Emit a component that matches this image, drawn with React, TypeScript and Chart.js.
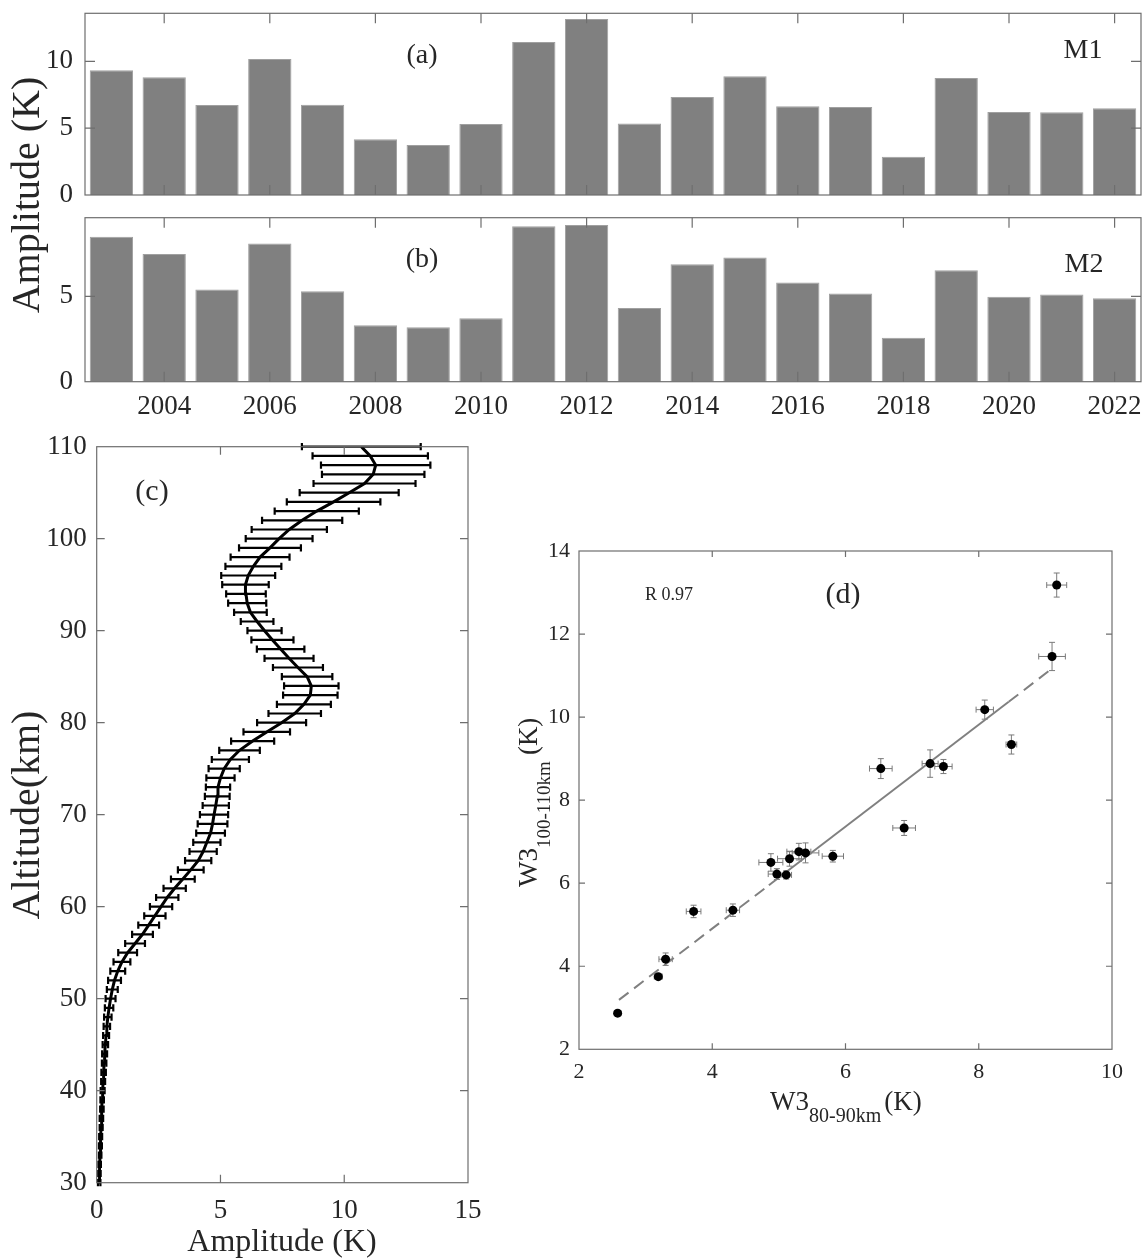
import React, { useEffect, useRef } from "react";
import { Chart, registerables } from "chart.js";

Chart.register(...registerables);

const PAGE_W = 1146;
const PAGE_H = 1259;
const SERIF = '"Liberation Serif", "Times New Roman", Times, serif';
const TEXT_COLOR = "#262626";
const AXIS_COLOR = "#6e6e6e";
const BAR_COLOR = "#808080";

// ---------- panels (a) and (b): yearly amplitudes ----------
const years = [2003, 2004, 2005, 2006, 2007, 2008, 2009, 2010, 2011, 2012, 2013, 2014, 2015, 2016, 2017, 2018, 2019, 2020, 2021, 2022];
const m1Amplitude = [9.34, 8.81, 6.73, 10.18, 6.76, 4.17, 3.75, 5.32, 11.46, 13.18, 5.35, 7.33, 8.88, 6.65, 6.59, 2.87, 8.76, 6.22, 6.2, 6.5];
const m2Amplitude = [8.49, 7.47, 5.4, 8.09, 5.3, 3.3, 3.19, 3.72, 9.1, 9.17, 4.31, 6.88, 7.27, 5.81, 5.16, 2.58, 6.53, 4.97, 5.11, 4.88];
const yearTickLabels = ["2004", "2006", "2008", "2010", "2012", "2014", "2016", "2018", "2020", "2022"];

// ---------- panel (c): vertical profile ----------
const altitudeKm = [
  30, 31, 32, 33, 34, 35, 36, 37, 38, 39,
  40, 41, 42, 43, 44, 45, 46, 47, 48, 49,
  50, 51, 52, 53, 54, 55, 56, 57, 58, 59,
  60, 61, 62, 63, 64, 65, 66, 67, 68, 69,
  70, 71, 72, 73, 74, 75, 76, 77, 78, 79,
  80, 81, 82, 83, 84, 85, 86, 87, 88, 89,
  90, 91, 92, 93, 94, 95, 96, 97, 98, 99,
  100, 101, 102, 103, 104, 105, 106, 107, 108, 109, 110,
];
const profileAmplitude = [
  0.1, 0.11, 0.12, 0.14, 0.15, 0.16, 0.18, 0.19, 0.21, 0.22,
  0.24, 0.26, 0.28, 0.3, 0.32, 0.35, 0.38, 0.41, 0.45, 0.5,
  0.56, 0.63, 0.72, 0.85, 1.02, 1.25, 1.55, 1.85, 2.1, 2.35,
  2.6, 2.85, 3.15, 3.48, 3.8, 4.1, 4.3, 4.45, 4.6, 4.68,
  4.74, 4.81, 4.87, 4.9, 5.0, 5.15, 5.4, 5.77, 6.3, 6.87,
  7.47, 8.0, 8.37, 8.63, 8.67, 8.5, 8.13, 7.77, 7.43, 7.1,
  6.78, 6.48, 6.21, 6.08, 6.03, 6.01, 6.12, 6.33, 6.6, 7.0,
  7.37, 7.78, 8.3, 8.89, 9.57, 10.2, 10.82, 11.17, 11.27, 11.05, 10.69,
];
const profileError = [
  0.05, 0.05, 0.05, 0.05, 0.06, 0.06, 0.06, 0.07, 0.07, 0.07,
  0.08, 0.08, 0.09, 0.09, 0.1, 0.11, 0.12, 0.13, 0.15, 0.17,
  0.2, 0.22, 0.26, 0.3, 0.34, 0.38, 0.4, 0.42, 0.42, 0.43,
  0.45, 0.45, 0.45, 0.48, 0.52, 0.53, 0.55, 0.55, 0.58, 0.6,
  0.57, 0.53, 0.5, 0.49, 0.57, 0.63, 0.75, 0.82, 0.87, 0.94,
  0.99, 1.06, 1.09, 1.1, 1.1, 1.02, 1.01, 0.99, 0.96, 0.85,
  0.69, 0.66, 0.66, 0.77, 0.8, 0.94, 1.09, 1.13, 1.19, 1.25,
  1.35, 1.52, 1.62, 1.7, 1.89, 2.0, 2.06, 2.07, 2.21, 2.33, 2.4,
];

// ---------- panel (d): W3 80-90 km vs W3 100-110 km ----------
const w3LowErr = [0.08, 0.13, 0.2, 0.13, 0.18, 0.1, 0.06, 0.11, 0.2, 0.15, 0.1, 0.17, 0.12, 0.16, 0.18, 0.05, 0.17, 0.13, 0.08, 0.18];
const w3HighErr = [0.23, 0.17, 0.24, 0.23, 0.2, 0.15, 0.06, 0.15, 0.34, 0.29, 0.15, 0.18, 0.33, 0.14, 0.18, 0.04, 0.24, 0.13, 0.1, 0.21];
const fitLineX = [2.6, 4.85, 8.45, 9.06];
const fitLineY = [3.19, 5.95, 10.37, 11.12];
const correlationLabel = "R 0.97";

// ---------- helpers ----------
type Side = { left: number; top: number; right: number; bottom: number };

function padFor(area: Side, yAxisW: number, xAxisH: number) {
  return {
    left: area.left - yAxisW,
    top: area.top,
    right: PAGE_W - area.right,
    bottom: PAGE_H - area.bottom - xAxisH,
  };
}

function fixSize(size: number) {
  return (scale: any) => {
    if (scale.isHorizontal()) scale.height = size;
    else scale.width = size;
    scale.paddingTop = 0;
    scale.paddingBottom = 0;
    scale.paddingLeft = 0;
    scale.paddingRight = 0;
  };
}

function drawText(
  ctx: CanvasRenderingContext2D,
  s: string,
  x: number,
  y: number,
  size: number,
  align: CanvasTextAlign = "center",
  baseline: CanvasTextBaseline = "alphabetic",
  rotate = false
) {
  ctx.save();
  ctx.fillStyle = TEXT_COLOR;
  ctx.font = `${size}px ${SERIF}`;
  ctx.textAlign = align;
  ctx.textBaseline = baseline;
  ctx.translate(x, y);
  if (rotate) ctx.rotate(-Math.PI / 2);
  ctx.fillText(s, 0, 0);
  ctx.restore();
}

function framePlugin(tickLen: number, xTickValues: number[] | null, texts?: (ctx: CanvasRenderingContext2D) => void) {
  return {
    id: "frame",
    afterDraw(chart: any) {
      const { ctx, chartArea: a, scales } = chart;
      const xs = scales.x;
      const ys = scales.y;
      ctx.save();
      ctx.strokeStyle = AXIS_COLOR;
      ctx.lineWidth = 1.2;
      ctx.strokeRect(a.left, a.top, a.right - a.left, a.bottom - a.top);
      ctx.beginPath();
      const xv = xTickValues ?? xs.ticks.map((t: any) => t.value);
      xv.forEach((v: number) => {
        const p = xs.getPixelForValue(v);
        if (p <= a.left + 1 || p >= a.right - 1) return;
        ctx.moveTo(p, a.bottom);
        ctx.lineTo(p, a.bottom - tickLen);
        ctx.moveTo(p, a.top);
        ctx.lineTo(p, a.top + tickLen);
      });
      ys.ticks.forEach((t: any) => {
        const p = ys.getPixelForValue(t.value);
        if (p <= a.top + 1 || p >= a.bottom - 1) return;
        ctx.moveTo(a.left, p);
        ctx.lineTo(a.left + tickLen, p);
        ctx.moveTo(a.right, p);
        ctx.lineTo(a.right - tickLen, p);
      });
      ctx.stroke();
      ctx.restore();
      if (texts) texts(ctx);
    },
  };
}

const tickFont = (size: number) => ({ family: SERIF, size });
const hiddenGrid = { display: false, drawTicks: false };
const noBorder = { display: false };
const yearTickIdx = yearTickLabels.map((l) => years.indexOf(Number(l)));

function barConfig(values: number[], yMax: number, area: Side, showX: boolean, texts: (ctx: CanvasRenderingContext2D) => void) {
  const xH = showX ? 40 : 0;
  return {
    type: "bar",
    data: {
      labels: years.map(String),
      datasets: [
        {
          data: values,
          backgroundColor: BAR_COLOR,
          borderColor: "#a0a0a0",
          borderWidth: 1,
          barPercentage: 0.82,
          categoryPercentage: 1,
        },
      ],
    },
    options: {
      responsive: false,
      animation: false,
      devicePixelRatio: 1,
      events: [],
      layout: { padding: padFor(area, 70, xH) },
      plugins: { legend: { display: false }, tooltip: { enabled: false } },
      scales: {
        x: {
          grid: hiddenGrid,
          border: noBorder,
          ticks: {
            display: showX,
            autoSkip: false,
            minRotation: 0,
            maxRotation: 0,
            padding: 9,
            color: TEXT_COLOR,
            font: tickFont(27),
            callback: (_v: any, i: number) => (yearTickLabels.includes(String(years[i])) ? String(years[i]) : ""),
          },
          afterFit: fixSize(xH),
        },
        y: {
          min: 0,
          max: yMax,
          grid: hiddenGrid,
          border: noBorder,
          ticks: { stepSize: 5, includeBounds: false, padding: 12, color: TEXT_COLOR, font: tickFont(27) },
          afterFit: fixSize(70),
        },
      },
    },
    plugins: [framePlugin(10, yearTickIdx, texts)],
  };
}

function configA() {
  return barConfig(m1Amplitude, 13.6, { left: 85, top: 13.3, right: 1141, bottom: 195 }, false, (ctx) => {
    drawText(ctx, "(a)", 422, 63, 28);
    drawText(ctx, "M1", 1083, 58, 28);
    drawText(ctx, "Amplitude (K)", 28, 195, 40, "center", "middle", true);
  });
}

function configB() {
  return barConfig(m2Amplitude, 9.6, { left: 85, top: 217.7, right: 1141, bottom: 381.7 }, true, (ctx) => {
    drawText(ctx, "(b)", 422, 267, 28);
    drawText(ctx, "M2", 1084, 272, 28);
  });
}

function configC() {
  const area = { left: 96.7, top: 446.7, right: 468, bottom: 1182.7 };
  const errPlugin = {
    id: "profileErr",
    afterDatasetsDraw(chart: any) {
      const { ctx, scales } = chart;
      const xs = scales.x;
      const ys = scales.y;
      ctx.save();
      ctx.strokeStyle = "#000";
      ctx.lineWidth = 2.2;
      ctx.beginPath();
      altitudeKm.forEach((alt, i) => {
        const py = ys.getPixelForValue(alt);
        const x0 = xs.getPixelForValue(profileAmplitude[i] - profileError[i]);
        const x1 = xs.getPixelForValue(profileAmplitude[i] + profileError[i]);
        ctx.moveTo(x0, py);
        ctx.lineTo(x1, py);
        ctx.moveTo(x0, py - 3.6);
        ctx.lineTo(x0, py + 3.6);
        ctx.moveTo(x1, py - 3.6);
        ctx.lineTo(x1, py + 3.6);
      });
      ctx.stroke();
      ctx.restore();
    },
  };
  return {
    type: "scatter",
    data: {
      datasets: [
        {
          data: altitudeKm.map((alt, i) => ({ x: profileAmplitude[i], y: alt })),
          showLine: true,
          borderColor: "#000",
          borderWidth: 3,
          pointRadius: 0,
          tension: 0,
        },
      ],
    },
    options: {
      responsive: false,
      animation: false,
      devicePixelRatio: 1,
      events: [],
      layout: { padding: padFor(area, 70, 40) },
      plugins: { legend: { display: false }, tooltip: { enabled: false } },
      scales: {
        x: {
          type: "linear",
          min: 0,
          max: 15,
          grid: hiddenGrid,
          border: noBorder,
          ticks: { stepSize: 5, padding: 12, color: TEXT_COLOR, font: tickFont(27) },
          afterFit: fixSize(40),
        },
        y: {
          min: 30,
          max: 110,
          grid: hiddenGrid,
          border: noBorder,
          ticks: { stepSize: 10, padding: 10, color: TEXT_COLOR, font: tickFont(27) },
          afterFit: fixSize(70),
        },
      },
    },
    plugins: [
      errPlugin,
      framePlugin(8, null, (ctx) => {
        drawText(ctx, "(c)", 152, 500, 30);
        drawText(ctx, "Altitude(km)", 28, 815, 40, "center", "middle", true);
        drawText(ctx, "Amplitude (K)", 282, 1251, 32);
      }),
    ],
  };
}

function configD() {
  const area = { left: 579, top: 551, right: 1112, bottom: 1049.3 };
  const errPlugin = {
    id: "scatterErr",
    beforeDatasetsDraw(chart: any) {
      const { ctx, scales } = chart;
      const xs = scales.x;
      const ys = scales.y;
      const cap = 3;
      ctx.save();
      ctx.strokeStyle = "#7a7a7a";
      ctx.lineWidth = 1;
      ctx.beginPath();
      m2Amplitude.forEach((xv, i) => {
        const yv = m1Amplitude[i];
        const px = xs.getPixelForValue(xv);
        const py = ys.getPixelForValue(yv);
        const xl = xs.getPixelForValue(xv - w3LowErr[i]);
        const xr = xs.getPixelForValue(xv + w3LowErr[i]);
        const yt = ys.getPixelForValue(yv + w3HighErr[i]);
        const yb = ys.getPixelForValue(yv - w3HighErr[i]);
        ctx.moveTo(xl, py);
        ctx.lineTo(xr, py);
        ctx.moveTo(xl, py - cap);
        ctx.lineTo(xl, py + cap);
        ctx.moveTo(xr, py - cap);
        ctx.lineTo(xr, py + cap);
        ctx.moveTo(px, yt);
        ctx.lineTo(px, yb);
        ctx.moveTo(px - cap, yt);
        ctx.lineTo(px + cap, yt);
        ctx.moveTo(px - cap, yb);
        ctx.lineTo(px + cap, yb);
      });
      ctx.stroke();
      ctx.restore();
    },
  };
  const labels = (ctx: CanvasRenderingContext2D) => {
    drawText(ctx, "(d)", 843, 603, 30);
    drawText(ctx, correlationLabel, 645, 600, 18, "left");
    // x label with subscript
    ctx.save();
    ctx.fillStyle = TEXT_COLOR;
    ctx.textAlign = "left";
    ctx.textBaseline = "alphabetic";
    let x = 770;
    ctx.font = `27px ${SERIF}`;
    ctx.fillText("W3", x, 1110);
    x += ctx.measureText("W3").width;
    ctx.font = `20px ${SERIF}`;
    ctx.fillText("80-90km", x, 1122);
    x += ctx.measureText("80-90km").width + 3;
    ctx.font = `27px ${SERIF}`;
    ctx.fillText("(K)", x, 1110);
    ctx.restore();
    // y label with subscript (rotated)
    ctx.save();
    ctx.fillStyle = TEXT_COLOR;
    ctx.textAlign = "left";
    ctx.textBaseline = "alphabetic";
    ctx.translate(537, 887);
    ctx.rotate(-Math.PI / 2);
    let t = 0;
    ctx.font = `27px ${SERIF}`;
    ctx.fillText("W3", t, 0);
    t += ctx.measureText("W3").width;
    ctx.font = `19px ${SERIF}`;
    ctx.fillText("100-110km", t, 13);
    t += ctx.measureText("100-110km").width + 6;
    ctx.font = `27px ${SERIF}`;
    ctx.fillText("(K)", t, 0);
    ctx.restore();
  };
  return {
    type: "scatter",
    data: {
      datasets: [
        {
          data: m2Amplitude.map((xv, i) => ({ x: xv, y: m1Amplitude[i] })),
          backgroundColor: "#000",
          borderWidth: 0,
          pointRadius: 4.5,
        },
        {
          data: fitLineX.map((xv, i) => ({ x: xv, y: fitLineY[i] })),
          showLine: true,
          borderColor: "#808080",
          borderWidth: 2,
          pointRadius: 0,
          segment: { borderDash: (c: any) => (c.p0DataIndex === 1 ? undefined : [12, 7]) },
        },
      ],
    },
    options: {
      responsive: false,
      animation: false,
      devicePixelRatio: 1,
      events: [],
      layout: { padding: padFor(area, 60, 40) },
      plugins: { legend: { display: false }, tooltip: { enabled: false } },
      scales: {
        x: {
          type: "linear",
          min: 2,
          max: 10,
          grid: hiddenGrid,
          border: noBorder,
          ticks: { stepSize: 2, padding: 10, color: TEXT_COLOR, font: tickFont(22) },
          afterFit: fixSize(40),
        },
        y: {
          min: 2,
          max: 14,
          grid: hiddenGrid,
          border: noBorder,
          ticks: { stepSize: 2, padding: 9, color: TEXT_COLOR, font: tickFont(22) },
          afterFit: fixSize(60),
        },
      },
    },
    plugins: [errPlugin, framePlugin(6, null, labels)],
  };
}

function ChartLayer({ make }: { make: () => any }) {
  const ref = useRef<HTMLCanvasElement>(null);
  useEffect(() => {
    const chart = new Chart(ref.current as HTMLCanvasElement, make() as any);
    return () => chart.destroy();
  }, []);
  return (
    <canvas
      ref={ref}
      width={PAGE_W}
      height={PAGE_H}
      style={{ position: "absolute", left: 0, top: 0, width: PAGE_W, height: PAGE_H }}
    />
  );
}

export default function App() {
  return (
    <div style={{ position: "absolute", left: 0, top: 0, width: PAGE_W, height: PAGE_H, background: "#fff" }}>
      <ChartLayer make={configA} />
      <ChartLayer make={configB} />
      <ChartLayer make={configC} />
      <ChartLayer make={configD} />
    </div>
  );
}
